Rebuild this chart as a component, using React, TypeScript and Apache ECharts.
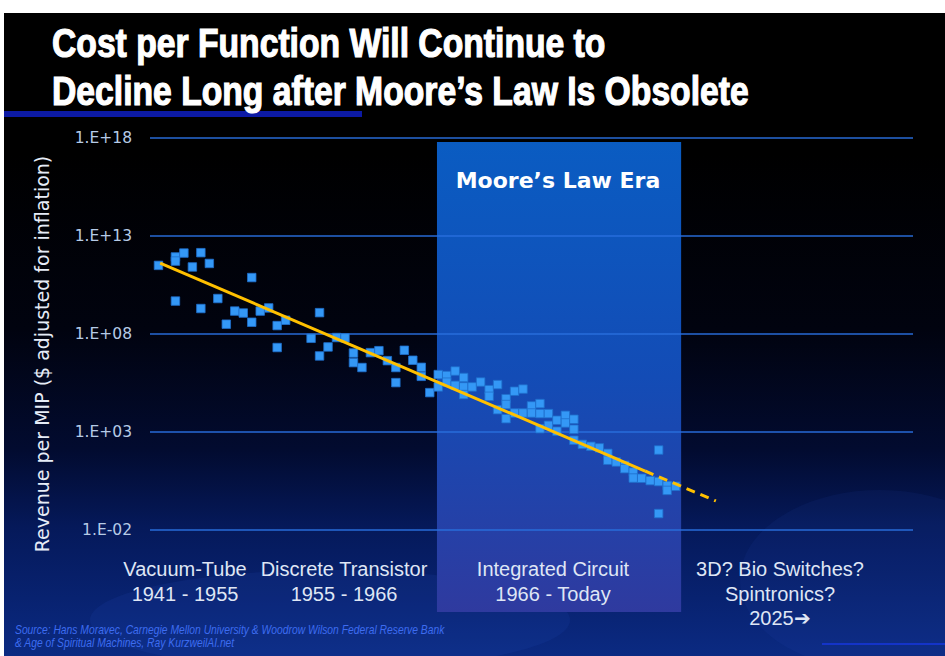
import React, { useEffect, useRef } from 'react';
import * as echarts from 'echarts';

// ---------- texts ----------
const TITLE_LINES = ['Cost per Function Will Continue to', 'Decline Long after Moore’s Law Is Obsolete'];
const Y_AXIS_NAME = 'Revenue per MIP ($ adjusted for inflation)';
const Y_TICK_LABELS = ['1.E-02', '1.E+03', '1.E+08', '1.E+13', '1.E+18'];
const ERA_TITLE = 'Moore’s Law Era';
const ERA_LABELS = [
  ['Vacuum-Tube', '1941 - 1955'],
  ['Discrete Transistor', '1955 - 1966'],
  ['Integrated Circuit', '1966 - Today'],
  ['3D? Bio Switches?', 'Spintronics?', '2025➔'],
];
const SOURCE_LINES = [
  'Source: Hans Moravec, Carnegie Mellon University & Woodrow Wilson Federal Reserve Bank',
  '& Age of Spiritual Machines, Ray KurzweilAI.net',
];

// ---------- data (x = year, y = log10 of revenue per MIP) ----------
const LOG_MIN = -2; // axis starts at 1.E-02
const pointYears = [
  1902, 1906, 1906, 1908, 1912, 1910, 1914, 1924, 1906, 1912,
  1916, 1920, 1922, 1918, 1924, 1926, 1928, 1930, 1932, 1930,
  1940, 1938, 1944, 1946, 1942, 1940, 1948, 1948, 1950, 1952,
  1954, 1956, 1958, 1960, 1962, 1964, 1964, 1958, 1966, 1968,
  1968, 1970, 1970, 1972, 1972, 1974, 1974, 1974, 1976, 1978,
  1980, 1980, 1982, 1982, 1984, 1984, 1984, 1986, 1986, 1988,
  1988, 1990, 1990, 1992, 1992, 1992, 1994, 1994, 1996, 1996,
  1998, 1998, 2000, 2000, 2000, 2002, 2004, 2006, 2008, 2008,
  2010, 2012, 2012, 2014, 2014, 2016, 2018, 2020, 2020, 2020,
  2022, 2022, 2024,
];
const pointLogRevenue = [
  11.5, 11.93, 11.72, 12.13, 12.15, 11.42, 11.6, 10.88, 9.68, 9.3,
  9.81, 9.17, 9.07, 8.5, 8.6, 9.17, 9.33, 8.43, 8.7, 7.31,
  9.09, 7.78, 7.82, 7.8, 7.34, 6.88, 7.03, 6.54, 6.29, 7.05,
  7.15, 6.64, 6.29, 7.17, 6.66, 6.3, 5.84, 5.52, 5.01, 5.93,
  5.3, 5.88, 5.54, 6.11, 5.38, 5.78, 5.3, 4.91, 5.3, 5.55,
  5.16, 4.82, 5.42, 4.14, 4.7, 4.4, 3.68, 5.08, 3.97, 5.19,
  3.97, 4.33, 3.97, 4.45, 3.94, 3.17, 3.94, 3.34, 3.6, 3.04,
  3.85, 3.46, 3.65, 3.14, 2.58, 2.37, 2.27, 2.19, 1.91, 1.56,
  1.47, 1.3, 1.13, 0.96, 0.65, 0.64, 0.52, 2.08, 0.47, -1.16,
  0.27, 0.02, 0.23,
];
const trendYears = [1902.4, 2016.8, 2033.5];
const trendLogRevenue = [11.62, 1.01, -0.52];
const mooreEraYears = [1967.7, 2025.3];
const X_MIN = 1900;
const X_MAX = 2080;

export default function App() {
  const ref = useRef<HTMLDivElement>(null);

  useEffect(() => {
    if (!ref.current) return;
    const chart = echarts.init(ref.current, null, { renderer: 'svg' });

    const shift = (v: number) => v - LOG_MIN;
    const scatterData = pointYears.map((y, i) => [y, shift(pointLogRevenue[i])]);
    const trendSolid = [
      [trendYears[0], shift(trendLogRevenue[0])],
      [trendYears[1], shift(trendLogRevenue[1])],
    ];
    const trendDashed = [
      [trendYears[1], shift(trendLogRevenue[1])],
      [trendYears[2], shift(trendLogRevenue[2])],
    ];

    const eraX = [185, 344, 553, 780];
    const eraTexts: any[] = [];
    ERA_LABELS.forEach((lines, i) => {
      lines.forEach((t, j) => {
        eraTexts.push({
          type: 'text',
          z: 20,
          x: eraX[i],
          y: 569 + j * 24.5,
          style: {
            text: t,
            fill: '#dfe6f5',
            fontFamily: '"Liberation Sans", Arial, sans-serif',
            fontSize: 20,
            textAlign: 'center',
            textVerticalAlign: 'middle',
          },
        });
      });
    });

    const option: any = {
      animation: false,
      backgroundColor: '#ffffff',
      grid: { left: 150, right: 32, top: 138, bottom: 126, containLabel: false },
      xAxis: {
        type: 'value',
        min: X_MIN,
        max: X_MAX,
        show: false,
        splitLine: { show: false },
      },
      yAxis: {
        type: 'value',
        min: 0,
        max: 20,
        interval: 5,
        axisLine: { show: false },
        axisTick: { show: false },
        splitLine: { show: true, lineStyle: { color: 'rgba(40,110,220,0.72)', width: 2 } },
        axisLabel: {
          margin: 18,
          color: '#b6cbe6',
          fontSize: 15.5,
          fontFamily: '"DejaVu Sans", Verdana, sans-serif',
          formatter: (v: number) => Y_TICK_LABELS[Math.round(v / 5)] ?? '',
        },
      },
      series: [
        {
          type: 'scatter',
          data: scatterData,
          symbol: 'rect',
          symbolSize: 8.5,
          itemStyle: { color: '#3498f6', borderColor: '#1f6fcc', borderWidth: 0.8, opacity: 1 },
          z: 3,
        },
        {
          type: 'line',
          data: trendSolid,
          symbol: 'none',
          lineStyle: { color: '#ffc000', width: 3 },
          z: 4,
        },
        {
          type: 'line',
          data: trendDashed,
          symbol: 'none',
          lineStyle: { color: '#ffc000', width: 3, type: [9, 6] },
          z: 4,
        },
      ],
      graphic: {
        elements: [
          {
            id: 'bg',
            type: 'rect',
            z: -20,
            shape: { x: 4, y: 13, width: 941, height: 643 },
            style: {
              fill: new echarts.graphic.LinearGradient(0, 0, 0, 1, [
                { offset: 0, color: '#000000' },
                { offset: 0.22, color: '#000000' },
                { offset: 0.49, color: '#01030f' },
                { offset: 0.68, color: '#020b30' },
                { offset: 0.8, color: '#05195a' },
                { offset: 0.91, color: '#082270' },
                { offset: 1, color: '#0b2a82' },
              ]),
            },
          },
          {
            id: 'swirl1',
            type: 'ellipse',
            z: -19,
            shape: { cx: 330, cy: 620, rx: 240, ry: 50 },
            style: { fill: 'rgba(45,85,200,0.12)' },
          },
          {
            id: 'swirl2',
            type: 'ellipse',
            z: -19,
            shape: { cx: 880, cy: 580, rx: 140, ry: 90 },
            style: { fill: 'rgba(45,85,200,0.08)' },
          },
          {
            id: 'titlebar',
            type: 'rect',
            z: 5,
            shape: { x: 4, y: 111, width: 358, height: 6 },
            style: { fill: '#0c1aa4' },
          },
          ...TITLE_LINES.map((t, i) => ({
            id: 'title' + i,
            type: 'text',
            z: 20,
            x: 52,
            y: 43 + i * 48.5,
            scaleX: 0.842,
            style: {
              text: t,
              fill: '#ffffff',
              stroke: '#ffffff',
              lineWidth: 1.2,
              fontFamily: '"Liberation Sans", Arial, sans-serif',
              fontWeight: 'bold',
              fontSize: 40,
              textAlign: 'left',
              textVerticalAlign: 'middle',
            },
          })),
          {
            id: 'yname',
            type: 'text',
            z: 20,
            x: 42,
            y: 354,
            rotation: Math.PI / 2,
            style: {
              text: Y_AXIS_NAME,
              fill: '#e6ecf7',
              fontFamily: '"DejaVu Sans", Verdana, sans-serif',
              fontSize: 19,
              textAlign: 'center',
              textVerticalAlign: 'middle',
            },
          },
          {
            id: 'eraTitle',
            type: 'text',
            z: 20,
            x: 558,
            y: 180,
            style: {
              text: ERA_TITLE,
              fill: '#ffffff',
              fontFamily: '"DejaVu Sans", Verdana, sans-serif',
              fontWeight: 'bold',
              fontSize: 22,
              textAlign: 'center',
              textVerticalAlign: 'middle',
            },
          },
          ...eraTexts,
          ...SOURCE_LINES.map((t, i) => ({
            id: 'src' + i,
            type: 'text',
            z: 20,
            x: 15,
            y: 630 + i * 12.5,
            scaleX: 0.86,
            style: {
              text: t,
              fill: '#3d6cf0',
              fontFamily: '"Liberation Sans", Arial, sans-serif',
              fontStyle: 'italic',
              fontSize: 12,
              textAlign: 'left',
              textVerticalAlign: 'middle',
            },
          })),
          {
            id: 'brline',
            type: 'line',
            z: 5,
            shape: { x1: 822, y1: 644, x2: 945, y2: 644 },
            style: { stroke: '#1434c8', lineWidth: 2 },
          },
        ],
      },
    };

    chart.setOption(option);

    // Moore's law era band positioned from the x scale
    const x0 = chart.convertToPixel({ xAxisIndex: 0 }, mooreEraYears[0]) as number;
    const x1 = chart.convertToPixel({ xAxisIndex: 0 }, mooreEraYears[1]) as number;
    chart.setOption({
      graphic: {
        elements: [
          {
            id: 'band',
            type: 'rect',
            z: -10,
            shape: { x: x0, y: 142, width: x1 - x0, height: 470 },
            style: {
              fill: new echarts.graphic.LinearGradient(0, 0, 0, 1, [
                { offset: 0, color: '#0a5cc2' },
                { offset: 0.5, color: '#134cb6' },
                { offset: 1, color: '#2f3a9f' },
              ]),
            },
          },
        ],
      },
    });

    return () => chart.dispose();
  }, []);

  return (
    <div
      ref={ref}
      style={{ position: 'fixed', left: 0, top: 0, width: 945, height: 656 }}
    />
  );
}
